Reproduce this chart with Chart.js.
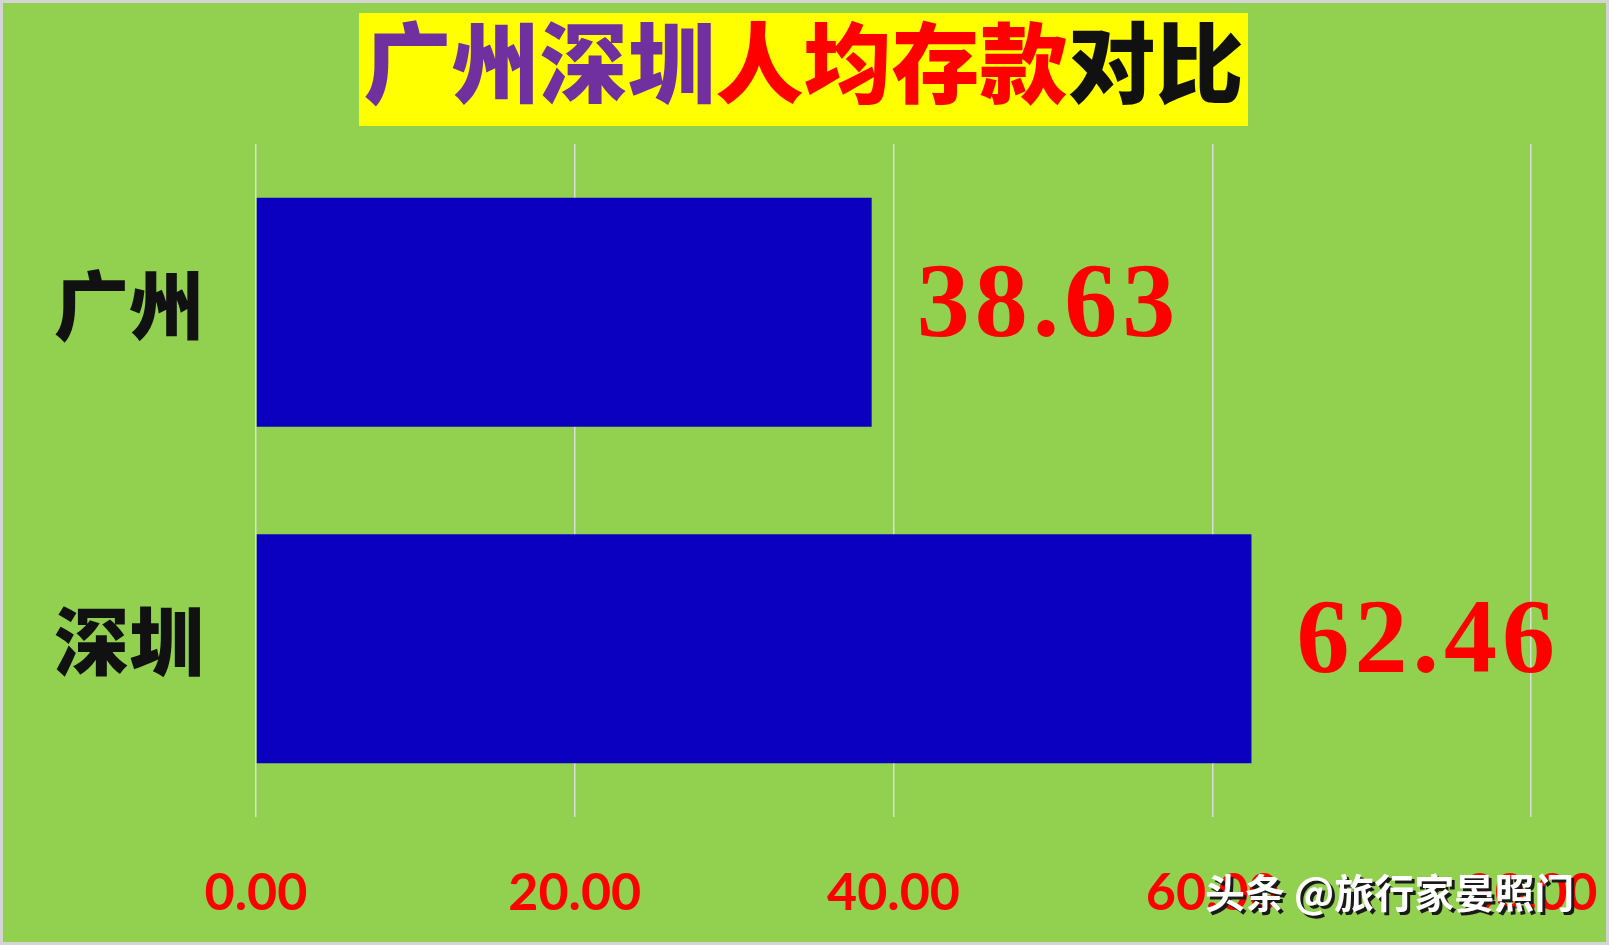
<!DOCTYPE html>
<html>
<head>
<meta charset="utf-8">
<script src="https://cdn.jsdelivr.net/npm/chart.js@4.4.0/dist/chart.umd.min.js"></script>
<style>
  html, body { margin: 0; padding: 0; background: #92D050; }
  #wrap { width: 1609px; height: 945px; }
</style>
</head>
<body>
<div id="wrap"><canvas id="depositChart" width="1609" height="945"></canvas></div>
<script>
// chart data
const categories = ['广州', '深圳'];
const depositValues = [38.63, 62.46];
const tickValues = [0, 20, 40, 60, 80];

// title pieces, each with its own colour
const titleParts = [
    { text: '广州深圳', color: '#7030A0' },
    { text: '人均存款', color: '#FF0000' },
    { text: '对比', color: '#111111' }
];
const watermark = '头条 @旅行家晏照门';

const cjkFont = '"Noto Sans CJK SC", "Noto Sans", sans-serif';

// background, frame, title box and watermark
const decorPlugin = {
    id: 'decor',
    beforeDraw(chart) {
        const ctx = chart.ctx;
        ctx.save();
        ctx.fillStyle = '#92D050';
        ctx.fillRect(0, 0, chart.width, chart.height);
        ctx.strokeStyle = '#d4d4d4';
        ctx.lineWidth = 3;
        ctx.strokeRect(1.5, 1.5, chart.width - 3, chart.height - 3);

        // yellow title box
        ctx.fillStyle = '#FFFF00';
        ctx.fillRect(359, 13, 889, 113);
        ctx.font = '900 88px ' + cjkFont;
        ctx.textBaseline = 'middle';
        let total = 0;
        titleParts.forEach(p => total += ctx.measureText(p.text).width);
        let x = 359 + (889 - total) / 2;
        titleParts.forEach(p => {
            ctx.fillStyle = p.color;
            ctx.fillText(p.text, x, 63);
            x += ctx.measureText(p.text).width;
        });
        ctx.restore();
    },
    afterDraw(chart) {
        const ctx = chart.ctx;
        ctx.save();
        ctx.font = '700 40px ' + cjkFont;
        ctx.textBaseline = 'middle';
        ctx.fillStyle = '#1a1a1a';
        ctx.fillText(watermark, 1208, 896);
        ctx.fillStyle = '#ffffff';
        ctx.fillText(watermark, 1205, 893);
        ctx.restore();
    }
};

// value labels to the right of each bar
const valueLabelPlugin = {
    id: 'valueLabels',
    afterDatasetsDraw(chart) {
        const ctx = chart.ctx;
        const meta = chart.getDatasetMeta(0);
        ctx.save();
        ctx.font = 'bold 106px "Liberation Serif", "Times New Roman", serif';
        ctx.letterSpacing = '5px';
        ctx.fillStyle = '#FF0000';
        ctx.textAlign = 'left';
        ctx.textBaseline = 'middle';
        meta.data.forEach((bar, i) => {
            ctx.fillText(depositValues[i].toFixed(2), bar.x + 45, bar.y - 4);
        });
        ctx.restore();
    }
};

new Chart(document.getElementById('depositChart'), {
    type: 'bar',
    data: {
        labels: categories,
        datasets: [{
            label: '人均存款',
            data: depositValues,
            backgroundColor: '#0B00C0',
            borderWidth: 0,
            categoryPercentage: 1,
            barPercentage: 0.68
        }]
    },
    options: {
        indexAxis: 'y',
        responsive: false,
        animation: false,
        devicePixelRatio: 1,
        layout: { padding: { top: 144, right: 78, left: 0, bottom: 0 } },
        plugins: {
            legend: { display: false },
            title: { display: false },
            tooltip: { enabled: false }
        },
        scales: {
            x: {
                min: 0,
                max: 80,
                afterBuildTicks: scale => {
                    scale.ticks = tickValues.map(v => ({ value: v }));
                },
                afterFit: scale => {
                    scale.height = 128;
                    // let the layout padding alone decide the plot edges
                    scale.paddingLeft = 0;
                    scale.paddingRight = 0;
                },
                border: { display: false },
                grid: {
                    color: '#dcdcdc',
                    lineWidth: 1.5,
                    drawTicks: false
                },
                ticks: {
                    padding: 45,
                    color: '#FF0000',
                    font: { family: 'Lato, "Open Sans", sans-serif', weight: 'bold', size: 52 },
                    callback: v => Number(v).toFixed(2)
                }
            },
            y: {
                afterFit: scale => { scale.width = 256; },
                border: { display: false },
                grid: { display: false },
                ticks: {
                    padding: 44,
                    labelOffset: -7,
                    color: '#111111',
                    font: { family: cjkFont, weight: '900', size: 75 }
                }
            }
        }
    },
    plugins: [decorPlugin, valueLabelPlugin]
});
</script>
</body>
</html>
